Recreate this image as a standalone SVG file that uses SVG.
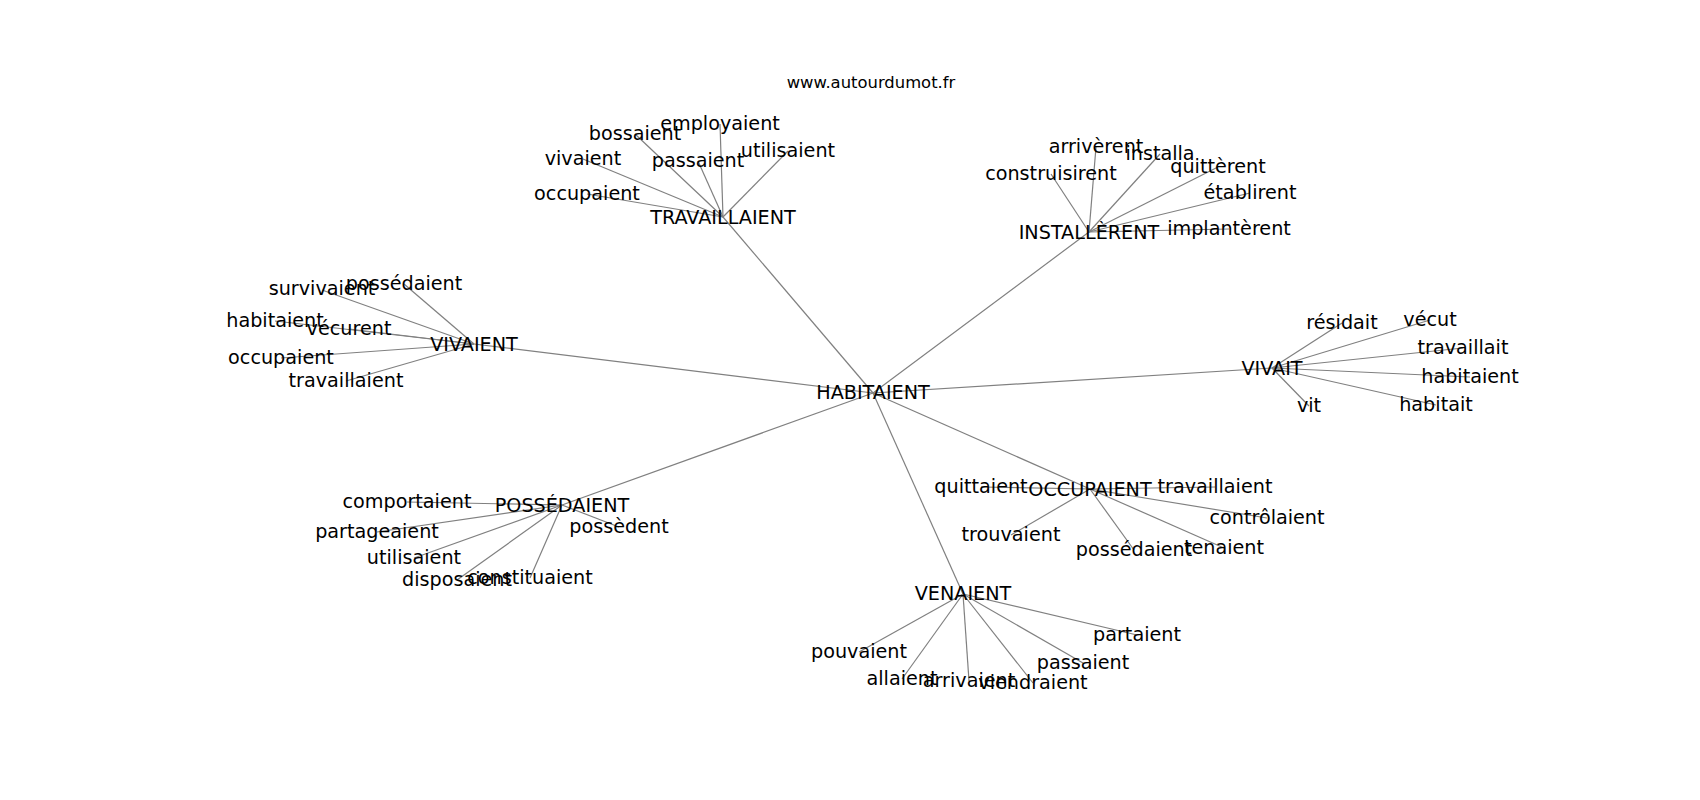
<svg xmlns="http://www.w3.org/2000/svg" width="1700" height="800" viewBox="0 0 1700 800">
<style>
.e{stroke:#808080;stroke-width:1.2;fill:none}
.n text{font-family:"DejaVu Sans",sans-serif;font-size:19.2px;text-anchor:middle;fill:#000}
.t{font-family:"DejaVu Sans",sans-serif;font-size:16.4px;text-anchor:middle;fill:#000}
</style>
<rect width="1700" height="800" fill="#fff"/>
<text class="t" x="871" y="88">www.autourdumot.fr</text>
<g id="connectors">
<line class="e" x1="873" y1="393" x2="723" y2="217"/>
<line class="e" x1="873" y1="393" x2="1089" y2="232"/>
<line class="e" x1="873" y1="393" x2="474" y2="344"/>
<line class="e" x1="873" y1="393" x2="1272" y2="368"/>
<line class="e" x1="873" y1="393" x2="562" y2="505"/>
<line class="e" x1="873" y1="393" x2="1090" y2="489"/>
<line class="e" x1="873" y1="393" x2="963" y2="594"/>
<line class="e" x1="723" y1="217" x2="720" y2="124"/>
<line class="e" x1="723" y1="217" x2="635" y2="134"/>
<line class="e" x1="723" y1="217" x2="583" y2="159"/>
<line class="e" x1="723" y1="217" x2="698" y2="161"/>
<line class="e" x1="723" y1="217" x2="788" y2="151"/>
<line class="e" x1="723" y1="217" x2="587" y2="194"/>
<line class="e" x1="1089" y1="232" x2="1096" y2="147"/>
<line class="e" x1="1089" y1="232" x2="1160" y2="154"/>
<line class="e" x1="1089" y1="232" x2="1051" y2="174"/>
<line class="e" x1="1089" y1="232" x2="1218" y2="167"/>
<line class="e" x1="1089" y1="232" x2="1250" y2="193"/>
<line class="e" x1="1089" y1="232" x2="1229" y2="229"/>
<line class="e" x1="474" y1="344" x2="322" y2="290"/>
<line class="e" x1="474" y1="344" x2="404" y2="284"/>
<line class="e" x1="474" y1="344" x2="275" y2="321"/>
<line class="e" x1="474" y1="344" x2="349" y2="329"/>
<line class="e" x1="474" y1="344" x2="281" y2="358"/>
<line class="e" x1="474" y1="344" x2="346" y2="381"/>
<line class="e" x1="1272" y1="368" x2="1342" y2="323"/>
<line class="e" x1="1272" y1="368" x2="1430" y2="320"/>
<line class="e" x1="1272" y1="368" x2="1463" y2="348"/>
<line class="e" x1="1272" y1="368" x2="1470" y2="377"/>
<line class="e" x1="1272" y1="368" x2="1309" y2="406"/>
<line class="e" x1="1272" y1="368" x2="1436" y2="405"/>
<line class="e" x1="562" y1="505" x2="407" y2="502"/>
<line class="e" x1="562" y1="505" x2="619" y2="527"/>
<line class="e" x1="562" y1="505" x2="377" y2="532"/>
<line class="e" x1="562" y1="505" x2="414" y2="558"/>
<line class="e" x1="562" y1="505" x2="457" y2="580"/>
<line class="e" x1="562" y1="505" x2="530" y2="578"/>
<line class="e" x1="1090" y1="489" x2="981" y2="487"/>
<line class="e" x1="1090" y1="489" x2="1215" y2="487"/>
<line class="e" x1="1090" y1="489" x2="1267" y2="518"/>
<line class="e" x1="1090" y1="489" x2="1011" y2="535"/>
<line class="e" x1="1090" y1="489" x2="1134" y2="550"/>
<line class="e" x1="1090" y1="489" x2="1224" y2="548"/>
<line class="e" x1="963" y1="594" x2="1137" y2="635"/>
<line class="e" x1="963" y1="594" x2="859" y2="652"/>
<line class="e" x1="963" y1="594" x2="902" y2="679"/>
<line class="e" x1="963" y1="594" x2="969" y2="681"/>
<line class="e" x1="963" y1="594" x2="1033" y2="683"/>
<line class="e" x1="963" y1="594" x2="1083" y2="663"/>
</g>
<g id="n-habitaient" class="n"><text x="873" y="399">HABITAIENT</text></g>
<g id="n-travaillaient" class="n"><text x="723" y="224">TRAVAILLAIENT</text></g>
<g id="n-installerent" class="n"><text x="1089" y="239">INSTALLÈRENT</text></g>
<g id="n-vivaient" class="n"><text x="474" y="351">VIVAIENT</text></g>
<g id="n-vivait" class="n"><text x="1272" y="375">VIVAIT</text></g>
<g id="n-possedaient" class="n"><text x="562" y="512">POSSÉDAIENT</text></g>
<g id="n-occupaient" class="n"><text x="1090" y="496">OCCUPAIENT</text></g>
<g id="n-venaient" class="n"><text x="963" y="600">VENAIENT</text></g>
<g id="n-t-employaient" class="n"><text x="720" y="130">employaient</text></g>
<g id="n-t-bossaient" class="n"><text x="635" y="140">bossaient</text></g>
<g id="n-t-vivaient" class="n"><text x="583" y="165">vivaient</text></g>
<g id="n-t-passaient" class="n"><text x="698" y="167">passaient</text></g>
<g id="n-t-utilisaient" class="n"><text x="788" y="157">utilisaient</text></g>
<g id="n-t-occupaient" class="n"><text x="587" y="200">occupaient</text></g>
<g id="n-i-arriverent" class="n"><text x="1096" y="153">arrivèrent</text></g>
<g id="n-i-installa" class="n"><text x="1160" y="160">installa</text></g>
<g id="n-i-construisirent" class="n"><text x="1051" y="180">construisirent</text></g>
<g id="n-i-quitterent" class="n"><text x="1218" y="173">quittèrent</text></g>
<g id="n-i-etablirent" class="n"><text x="1250" y="199">établirent</text></g>
<g id="n-i-implanterent" class="n"><text x="1229" y="235">implantèrent</text></g>
<g id="n-v-survivaient" class="n"><text x="322" y="295">survivaient</text></g>
<g id="n-v-possedaient" class="n"><text x="404" y="290">possédaient</text></g>
<g id="n-v-habitaient" class="n"><text x="275" y="327">habitaient</text></g>
<g id="n-v-vecurent" class="n"><text x="349" y="335">vécurent</text></g>
<g id="n-v-occupaient" class="n"><text x="281" y="364">occupaient</text></g>
<g id="n-v-travaillaient" class="n"><text x="346" y="387">travaillaient</text></g>
<g id="n-vt-residait" class="n"><text x="1342" y="329">résidait</text></g>
<g id="n-vt-vecut" class="n"><text x="1430" y="326">vécut</text></g>
<g id="n-vt-travaillait" class="n"><text x="1463" y="354">travaillait</text></g>
<g id="n-vt-habitaient" class="n"><text x="1470" y="383">habitaient</text></g>
<g id="n-vt-vit" class="n"><text x="1309" y="412">vit</text></g>
<g id="n-vt-habitait" class="n"><text x="1436" y="411">habitait</text></g>
<g id="n-p-comportaient" class="n"><text x="407" y="508">comportaient</text></g>
<g id="n-p-possedent" class="n"><text x="619" y="533">possèdent</text></g>
<g id="n-p-partageaient" class="n"><text x="377" y="538">partageaient</text></g>
<g id="n-p-utilisaient" class="n"><text x="414" y="564">utilisaient</text></g>
<g id="n-p-disposaient" class="n"><text x="457" y="586">disposaient</text></g>
<g id="n-p-constituaient" class="n"><text x="530" y="584">constituaient</text></g>
<g id="n-o-quittaient" class="n"><text x="981" y="493">quittaient</text></g>
<g id="n-o-travaillaient" class="n"><text x="1215" y="493">travaillaient</text></g>
<g id="n-o-controlaient" class="n"><text x="1267" y="524">contrôlaient</text></g>
<g id="n-o-trouvaient" class="n"><text x="1011" y="541">trouvaient</text></g>
<g id="n-o-possedaient" class="n"><text x="1134" y="556">possédaient</text></g>
<g id="n-o-tenaient" class="n"><text x="1224" y="554">tenaient</text></g>
<g id="n-ve-partaient" class="n"><text x="1137" y="641">partaient</text></g>
<g id="n-ve-pouvaient" class="n"><text x="859" y="658">pouvaient</text></g>
<g id="n-ve-allaient" class="n"><text x="902" y="685">allaient</text></g>
<g id="n-ve-arrivaient" class="n"><text x="969" y="687">arrivaient</text></g>
<g id="n-ve-viendraient" class="n"><text x="1033" y="689">viendraient</text></g>
<g id="n-ve-passaient" class="n"><text x="1083" y="669">passaient</text></g>
</svg>
